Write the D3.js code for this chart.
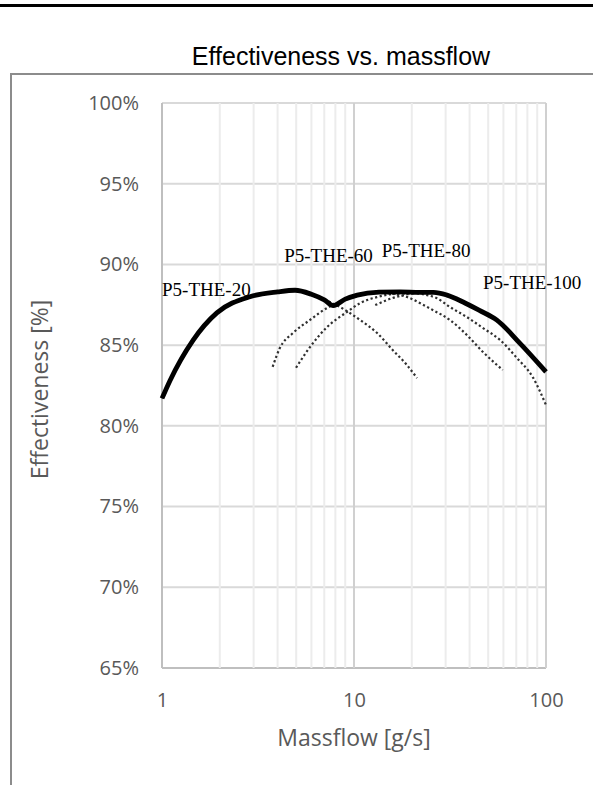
<!DOCTYPE html>
<html lang="en">
<head>
<meta charset="utf-8" />
<title>Effectiveness vs. massflow</title>
<script src="https://d3js.org/d3.v7.min.js"></script>
<style>
  body { margin: 0; background: #fff; }
  svg { display: block; }
</style>
</head>
<body>
<div id="chart"></div>
<script>
// Data (massflow in g/s, effectiveness in %)
const yTicks = [65, 70, 75, 80, 85, 90, 95, 100];
const xMajorTicks = [1, 10, 100];
const xMinorTicks = [2, 3, 4, 5, 6, 7, 8, 9, 20, 30, 40, 50, 60, 70, 80, 90];

const the20 = [[1, 81.7], [1.1, 82.8], [1.45, 85.3], [1.93, 87.0], [2.87, 88.0], [4.0, 88.3], [4.93, 88.4],
  [6.0, 88.15], [7.24, 87.75], [8.45, 87.36], [10.75, 86.56], [13.2, 85.75], [15.9, 84.7], [18.85, 83.77], [21.3, 82.96]];
const the60 = [[3.77, 83.66], [4.11, 84.82], [4.81, 85.75], [5.9, 86.56], [7.24, 87.3], [7.78, 87.48], [10.4, 88.05],
  [13.7, 88.25], [16.5, 88.15], [19.5, 87.92], [22.0, 87.61], [25.7, 87.18], [31.6, 86.56], [38.7, 85.63], [47.0, 84.57], [59.5, 83.46]];
const the80 = [[4.99, 83.6], [5.9, 84.88], [7.24, 86.12], [9.18, 87.05], [10.75, 87.6], [13.2, 87.98], [17.4, 88.2],
  [21, 88.2], [24, 88.1], [26.9, 87.92], [31.6, 87.36], [38.7, 86.74], [47.0, 86.06], [57.6, 85.32], [70.6, 84.2], [85.3, 83.02], [100, 81.29]];
const the100 = [[12.9, 87.48], [15.9, 87.92], [19, 88.15], [22, 88.25], [26, 88.28], [30.5, 88.1], [37, 87.67],
  [45, 87.15], [55.5, 86.55], [73, 85.13], [100, 83.35]];
const envelope = [[1, 81.7], [1.1, 82.8], [1.45, 85.3], [1.93, 87.0], [2.87, 88.0], [4.0, 88.3], [4.93, 88.4],
  [6.0, 88.15], [7.0, 87.8], [7.8, 87.45], [9.0, 87.85], [10.4, 88.1], [13.5, 88.28], [17.4, 88.3], [22, 88.27],
  [26, 88.27], [30.5, 88.1], [37, 87.67], [45, 87.15], [55.5, 86.55], [73, 85.13], [100, 83.35]];

const labels = [
  { text: "P5-THE-20", x: 1.0, y: 88.04 },
  { text: "P5-THE-60", x: 4.33, y: 90.13 },
  { text: "P5-THE-80", x: 13.95, y: 90.44 },
  { text: "P5-THE-100", x: 47.0, y: 88.46 }
];

const W = 593, H = 785;
const plot = { left: 162, right: 546, top: 103, bottom: 668 };

const svg = d3.select("#chart").append("svg")
  .attr("width", W).attr("height", H);

// black rule at top of page
svg.append("line")
  .attr("x1", 0).attr("x2", W).attr("y1", 5.5).attr("y2", 5.5)
  .attr("stroke", "#000").attr("stroke-width", 3);

// chart frame (runs off the right and bottom edges)
svg.append("rect")
  .attr("x", 11).attr("y", 74).attr("width", 640).attr("height", 800)
  .attr("fill", "none").attr("stroke", "#8c8c8c").attr("stroke-width", 2);

svg.append("text")
  .attr("x", 341).attr("y", 65)
  .attr("text-anchor", "middle")
  .style("font-family", "'Liberation Sans', Arial, sans-serif")
  .style("font-size", "25px")
  .attr("fill", "#000")
  .text("Effectiveness vs. massflow");

const x = d3.scaleLog().domain([1, 100]).range([plot.left, plot.right]);
const y = d3.scaleLinear().domain([65, 100]).range([plot.bottom, plot.top]);

// gridlines
const grid = svg.append("g");
grid.selectAll(".hgrid").data(yTicks).join("line")
  .attr("x1", plot.left).attr("x2", plot.right)
  .attr("y1", d => y(d)).attr("y2", d => y(d))
  .attr("stroke", d => d === 65 ? "#bfbfbf" : "#d9d9d9").attr("stroke-width", 2);
grid.selectAll(".vminor").data(xMinorTicks).join("line")
  .attr("x1", d => x(d)).attr("x2", d => x(d))
  .attr("y1", plot.top).attr("y2", plot.bottom)
  .attr("stroke", "#ececec").attr("stroke-width", 2);
grid.selectAll(".vmajor").data(xMajorTicks).join("line")
  .attr("x1", d => x(d)).attr("x2", d => x(d))
  .attr("y1", plot.top).attr("y2", plot.bottom)
  .attr("stroke", d => d === 1 ? "#bfbfbf" : "#d0d0d0").attr("stroke-width", 2);

// axes (labels only, lines come from the grid)
const yAxis = svg.append("g")
  .attr("transform", `translate(${plot.left},0)`)
  .call(d3.axisLeft(y).tickValues(yTicks).tickSize(0).tickPadding(23).tickFormat(d => d + "%"));
const xAxis = svg.append("g")
  .attr("transform", `translate(0,${plot.bottom})`)
  .call(d3.axisBottom(x).tickValues(xMajorTicks).tickSize(0).tickPadding(25).tickFormat(d3.format("d")));
[yAxis, xAxis].forEach(a => {
  a.select(".domain").remove();
  a.selectAll("text")
    .style("font-family", "'Open Sans', sans-serif")
    .style("font-size", "20px")
    .attr("fill", "#595959");
});

svg.append("text")
  .attr("x", (plot.left + plot.right) / 2).attr("y", 746)
  .attr("text-anchor", "middle")
  .style("font-family", "'Open Sans', sans-serif")
  .style("font-size", "23px")
  .attr("fill", "#595959")
  .text("Massflow [g/s]");

svg.append("text")
  .attr("transform", `translate(48,${(plot.top + plot.bottom) / 2 + 4}) rotate(-90)`)
  .attr("text-anchor", "middle")
  .style("font-family", "'Open Sans', sans-serif")
  .style("font-size", "23px")
  .attr("fill", "#595959")
  .text("Effectiveness [%]");

// curves
const line = d3.line()
  .curve(d3.curveMonotoneX)
  .x(d => x(d[0]))
  .y(d => y(d[1]));

svg.append("g").selectAll("path")
  .data([the20, the60, the80, the100])
  .join("path")
  .attr("d", line)
  .attr("fill", "none")
  .attr("stroke", "#303030")
  .attr("stroke-width", 2.2)
  .attr("stroke-dasharray", "2.2,2.5");

svg.append("path")
  .datum(envelope)
  .attr("d", line)
  .attr("fill", "none")
  .attr("stroke", "#000")
  .attr("stroke-width", 4.8)
  .attr("stroke-linejoin", "round");

svg.append("g").selectAll("text")
  .data(labels)
  .join("text")
  .attr("x", d => x(d.x))
  .attr("y", d => y(d.y))
  .style("font-family", "'Liberation Serif', 'Times New Roman', serif")
  .style("font-size", "19px")
  .attr("fill", "#000")
  .text(d => d.text);
</script>
</body>
</html>
